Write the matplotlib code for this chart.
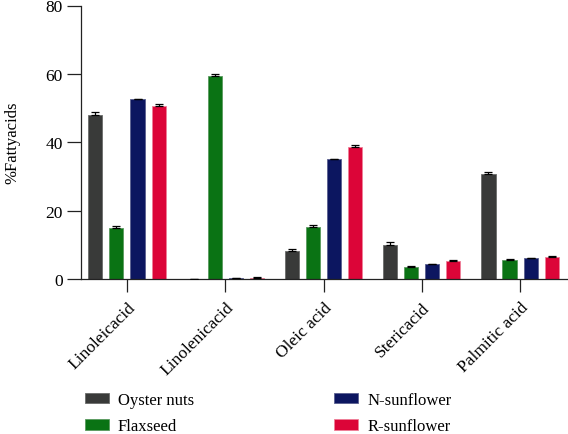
import numpy as np
import matplotlib
matplotlib.use("Agg")
import matplotlib.pyplot as plt
from matplotlib.patches import Patch

plt.rcParams['font.family'] = ['Liberation Serif', 'DejaVu Serif']

# ========== DATA ==========
categories = ["Linoleicacid", "Linolenicacid", "Oleic acid", "Stericacid", "Palmitic acid"]
series_names = ["Oyster nuts", "Flaxseed", "N-sunflower", "R-sunflower"]

oyster = [48.0, 0.1, 8.1, 10.0, 30.6]
flaxseed = [14.9, 59.3, 15.3, 3.4, 5.5]
n_sunflower = [52.6, 0.3, 35.0, 4.3, 6.1]
r_sunflower = [50.5, 0.4, 38.7, 5.4, 6.4]

oyster_err = [0.8, 0.0, 0.6, 0.7, 0.6]
flaxseed_err = [0.6, 0.7, 0.6, 0.4, 0.4]
n_sunflower_err = [0.1, 0.1, 0.1, 0.1, 0.1]
r_sunflower_err = [0.6, 0.2, 0.6, 0.3, 0.3]

COLORS = ['#393a39', '#0a7314', '#0c1660', '#dc0538']
EDGES = ['#6a6b6a', '#5a9a5f', '#5a608f', '#ef7f98']

values = [oyster, flaxseed, n_sunflower, r_sunflower]
errors = [oyster_err, flaxseed_err, n_sunflower_err, r_sunflower_err]

# ========== PLOT ==========
fig = plt.figure(figsize=(5.68, 4.35), dpi=100)
ax = fig.add_axes([81 / 568, 1 - 280 / 435, 486 / 568, (280 - 6.5) / 435])

x = np.arange(len(categories))
step = 0.214
width = 0.143
for i, (vals, errs) in enumerate(zip(values, errors)):
    pos = x + (i - 1.5) * step
    ax.bar(pos, vals, width=width, color=COLORS[i], edgecolor=EDGES[i],
           linewidth=0.6, zorder=2)
    ax.errorbar(pos, vals, yerr=[np.zeros(len(errs)), errs], fmt='none',
                ecolor='black', elinewidth=0.9, capsize=3, capthick=0.9, zorder=3)

ax.set_xlim(-0.468, 4.478)
ax.set_ylim(0, 80)
ax.set_yticks([0, 20, 40, 60, 80])
ax.set_xticks(x)
ax.set_xticklabels(categories, rotation=45, ha='right', va='top',
                   rotation_mode='anchor', fontsize=12.5)
ax.tick_params(axis='y', length=10, width=0.9, labelsize=12.5, pad=3, color='#222222')
ax.tick_params(axis='x', length=9.4, width=0.9, pad=5, color='#222222')

for side in ['top', 'right']:
    ax.spines[side].set_visible(False)
for side in ['left', 'bottom']:
    ax.spines[side].set_linewidth(0.9)
    ax.spines[side].set_color('#222222')

ax.set_ylabel("%Fattyacids", fontsize=12)
ax.yaxis.set_label_coords(-0.1255, 0.5)

handles = [Patch(facecolor=COLORS[i], edgecolor=EDGES[i], linewidth=0.6)
           for i in range(4)]
fig.legend(handles, series_names, ncol=2, loc='upper left',
           bbox_to_anchor=(85 / 568, 1 - 393 / 435), frameon=False,
           fontsize=12, handlelength=1.44, handleheight=0.6,
           handletextpad=0.54, labelspacing=0.62, columnspacing=8.4,
           borderpad=0, borderaxespad=0)

fig.savefig("out.png", dpi=100)
